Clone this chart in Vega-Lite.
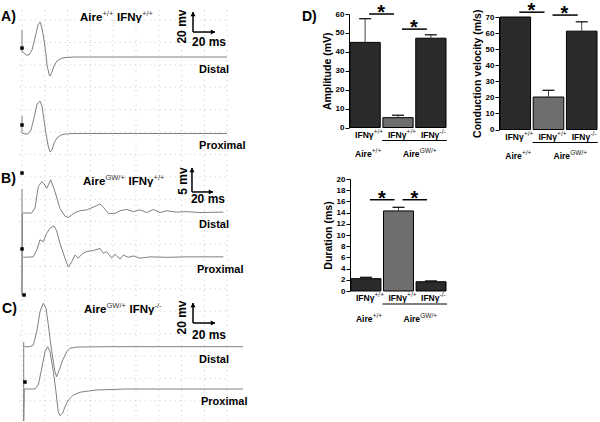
{
"$schema": "https://vega.github.io/schema/vega-lite/v6.json",
"width": 600, "height": 422, "autosize": "none", "padding": 0, "background": "white",
"config": {"view": {"stroke": null}, "font": "Liberation Sans",
  "axis": {"labelFont": "Liberation Sans", "labelFontSize": 8, "labelFontWeight": "bold", "labelColor": "black", "tickColor": "black", "domainColor": "black", "tickSize": 4, "labelPadding": 1, "titleFont": "Liberation Sans", "titleFontSize": 10.5, "titleFontWeight": "bold", "titleColor": "black", "titlePadding": 3, "grid": false, "minExtent": 0, "labelOverlap": false, "labelFlush": false}},
"datasets": {
 "gridT": [{"t":0},{"t":20},{"t":40},{"t":60},{"t":80},{"t":100},{"t":120},{"t":140},{"t":160},{"t":180}],
 "gridV": [{"v":33},{"v":13},{"v":-7},{"v":-27},{"v":-47},{"v":-67},{"v":-87},{"v":-107},{"v":-127},{"v":-147},{"v":-167},{"v":-187},{"v":-207},{"v":-227},{"v":-247},{"v":-267},{"v":-287},{"v":-307}],
 "traces": [
  {"trace":"Ad","i":0,"t":0,"v":24.1},{"trace":"Ad","i":1,"t":0,"v":4.5},{"trace":"Ad","i":2,"t":1.8,"v":3.6},{"trace":"Ad","i":3,"t":3.5,"v":1.8},{"trace":"Ad","i":4,"t":6.1,"v":1.8},{"trace":"Ad","i":5,"t":8.8,"v":6.3},{"trace":"Ad","i":6,"t":11.4,"v":17.0},{"trace":"Ad","i":7,"t":14.0,"v":28.6},{"trace":"Ad","i":8,"t":15.8,"v":31.3},{"trace":"Ad","i":9,"t":17.5,"v":25.9},{"trace":"Ad","i":10,"t":19.3,"v":15.2},{"trace":"Ad","i":11,"t":21.1,"v":1.8},{"trace":"Ad","i":12,"t":21.9,"v":-7.1},{"trace":"Ad","i":13,"t":23.7,"v":-15.2},{"trace":"Ad","i":14,"t":24.6,"v":-17.0},{"trace":"Ad","i":15,"t":26.3,"v":-13.4},{"trace":"Ad","i":16,"t":28.1,"v":-8.0},{"trace":"Ad","i":17,"t":30.7,"v":-3.6},{"trace":"Ad","i":18,"t":34.2,"v":-1.3},{"trace":"Ad","i":19,"t":38.6,"v":-0.4},{"trace":"Ad","i":20,"t":46.5,"v":0},{"trace":"Ad","i":21,"t":179.8,"v":0},
  {"trace":"Ap","i":0,"t":0,"v":15.6},{"trace":"Ap","i":1,"t":0,"v":0.4},{"trace":"Ap","i":2,"t":2.6,"v":-0.4},{"trace":"Ap","i":3,"t":5.3,"v":-0.4},{"trace":"Ap","i":4,"t":7.9,"v":3.1},{"trace":"Ap","i":5,"t":10.5,"v":13.8},{"trace":"Ap","i":6,"t":13.2,"v":26.3},{"trace":"Ap","i":7,"t":15.8,"v":29.0},{"trace":"Ap","i":8,"t":17.5,"v":24.6},{"trace":"Ap","i":9,"t":19.3,"v":12.1},{"trace":"Ap","i":10,"t":21.1,"v":-0.4},{"trace":"Ap","i":11,"t":22.8,"v":-10.3},{"trace":"Ap","i":12,"t":24.6,"v":-16.5},{"trace":"Ap","i":13,"t":26.3,"v":-14.7},{"trace":"Ap","i":14,"t":28.1,"v":-8.5},{"trace":"Ap","i":15,"t":30.7,"v":-4.0},{"trace":"Ap","i":16,"t":34.2,"v":-1.3},{"trace":"Ap","i":17,"t":38.6,"v":-0.4},{"trace":"Ap","i":18,"t":46.5,"v":0},{"trace":"Ap","i":19,"t":179.8,"v":0},
  {"trace":"Bd","i":0,"t":0,"v":5.4},{"trace":"Bd","i":1,"t":0,"v":-18.3},{"trace":"Bd","i":2,"t":0.4,"v":0},{"trace":"Bd","i":3,"t":1.1,"v":0},{"trace":"Bd","i":4,"t":8.5,"v":0},{"trace":"Bd","i":5,"t":11.4,"v":1.1},{"trace":"Bd","i":6,"t":14.3,"v":5.9},{"trace":"Bd","i":7,"t":17.3,"v":7.0},{"trace":"Bd","i":8,"t":19.3,"v":6.5},{"trace":"Bd","i":9,"t":21.7,"v":5.5},{"trace":"Bd","i":10,"t":25.2,"v":7.4},{"trace":"Bd","i":11,"t":28.9,"v":4.8},{"trace":"Bd","i":12,"t":33.3,"v":1.0},{"trace":"Bd","i":13,"t":37.7,"v":-0.7},{"trace":"Bd","i":14,"t":40.6,"v":-1.0},{"trace":"Bd","i":15,"t":43.6,"v":-0.4},{"trace":"Bd","i":16,"t":46.5,"v":0.1},{"trace":"Bd","i":17,"t":50.9,"v":0.5},{"trace":"Bd","i":18,"t":56.8,"v":0.7},{"trace":"Bd","i":19,"t":62.5,"v":1.3},{"trace":"Bd","i":20,"t":68.4,"v":2.0},{"trace":"Bd","i":21,"t":71.3,"v":1.3},{"trace":"Bd","i":22,"t":75.7,"v":-0.1},{"trace":"Bd","i":23,"t":81.6,"v":-0.1},{"trace":"Bd","i":24,"t":86.0,"v":0.5},{"trace":"Bd","i":25,"t":91.8,"v":0.8},{"trace":"Bd","i":26,"t":97.6,"v":0.3},{"trace":"Bd","i":27,"t":103.5,"v":0.7},{"trace":"Bd","i":28,"t":109.4,"v":0.1},{"trace":"Bd","i":29,"t":115.2,"v":0.8},{"trace":"Bd","i":30,"t":121.1,"v":0.1},{"trace":"Bd","i":31,"t":126.9,"v":0.5},{"trace":"Bd","i":32,"t":135.7,"v":0.2},{"trace":"Bd","i":33,"t":144.5,"v":0.3},{"trace":"Bd","i":34,"t":156.1,"v":0.1},{"trace":"Bd","i":35,"t":176.6,"v":0.2},
  {"trace":"Bp","i":0,"t":1.1,"v":0},{"trace":"Bp","i":1,"t":9.9,"v":0.1},{"trace":"Bp","i":2,"t":12.9,"v":1.6},{"trace":"Bp","i":3,"t":15.8,"v":3.9},{"trace":"Bp","i":4,"t":18.7,"v":3.5},{"trace":"Bp","i":5,"t":21.7,"v":5.4},{"trace":"Bp","i":6,"t":24.6,"v":6.5},{"trace":"Bp","i":7,"t":28.1,"v":7.0},{"trace":"Bp","i":8,"t":30.4,"v":5.9},{"trace":"Bp","i":9,"t":33.3,"v":3.1},{"trace":"Bp","i":10,"t":37.7,"v":-0.2},{"trace":"Bp","i":11,"t":40.6,"v":-2.2},{"trace":"Bp","i":12,"t":43.6,"v":-1.0},{"trace":"Bp","i":13,"t":46.5,"v":0.5},{"trace":"Bp","i":14,"t":49.4,"v":-0.2},{"trace":"Bp","i":15,"t":52.4,"v":0.7},{"trace":"Bp","i":16,"t":56.8,"v":1.3},{"trace":"Bp","i":17,"t":62.5,"v":1.5},{"trace":"Bp","i":18,"t":68.4,"v":2.0},{"trace":"Bp","i":19,"t":71.3,"v":0.9},{"trace":"Bp","i":20,"t":74.3,"v":1.3},{"trace":"Bp","i":21,"t":78.7,"v":-0.2},{"trace":"Bp","i":22,"t":81.6,"v":0.7},{"trace":"Bp","i":23,"t":86.0,"v":-0.4},{"trace":"Bp","i":24,"t":88.9,"v":0.5},{"trace":"Bp","i":25,"t":93.2,"v":0},{"trace":"Bp","i":26,"t":97.6,"v":0.3},{"trace":"Bp","i":27,"t":103.5,"v":-0.2},{"trace":"Bp","i":28,"t":112.3,"v":0.1},{"trace":"Bp","i":29,"t":126.9,"v":0},{"trace":"Bp","i":30,"t":144.5,"v":0.1},{"trace":"Bp","i":31,"t":176.6,"v":0.1},
  {"trace":"Cd","i":0,"t":2.0,"v":0},{"trace":"Cd","i":1,"t":7.0,"v":0},{"trace":"Cd","i":2,"t":9.9,"v":1.5},{"trace":"Cd","i":3,"t":12.9,"v":13.4},{"trace":"Cd","i":4,"t":15.8,"v":31.3},{"trace":"Cd","i":5,"t":18.7,"v":38.8},{"trace":"Cd","i":6,"t":21.1,"v":34.3},{"trace":"Cd","i":7,"t":23.1,"v":19.4},{"trace":"Cd","i":8,"t":26.1,"v":-4.5},{"trace":"Cd","i":9,"t":28.9,"v":-22.3},{"trace":"Cd","i":10,"t":30.4,"v":-26.8},{"trace":"Cd","i":11,"t":32.7,"v":-20.8},{"trace":"Cd","i":12,"t":35.7,"v":-11.9},{"trace":"Cd","i":13,"t":39.2,"v":-4.5},{"trace":"Cd","i":14,"t":42.1,"v":-1.4},{"trace":"Cd","i":15,"t":48.0,"v":-0.3},{"trace":"Cd","i":16,"t":77.2,"v":0},{"trace":"Cd","i":17,"t":193.9,"v":0},
  {"trace":"Cp","i":0,"t":1.5,"v":42.0},{"trace":"Cp","i":1,"t":1.5,"v":-28.6},{"trace":"Cp","i":2,"t":2.0,"v":0},{"trace":"Cp","i":3,"t":11.4,"v":0},{"trace":"Cp","i":4,"t":14.3,"v":3.6},{"trace":"Cp","i":5,"t":17.3,"v":18.5},{"trace":"Cp","i":6,"t":20.2,"v":33.3},{"trace":"Cp","i":7,"t":22.5,"v":37.8},{"trace":"Cp","i":8,"t":24.6,"v":33.3},{"trace":"Cp","i":9,"t":27.5,"v":15.4},{"trace":"Cp","i":10,"t":29.8,"v":-2.4},{"trace":"Cp","i":11,"t":31.8,"v":-20.3},{"trace":"Cp","i":12,"t":33.3,"v":-23.8},{"trace":"Cp","i":13,"t":35.7,"v":-21.7},{"trace":"Cp","i":14,"t":37.7,"v":-15.8},{"trace":"Cp","i":15,"t":40.6,"v":-9.8},{"trace":"Cp","i":16,"t":45.0,"v":-5.4},{"trace":"Cp","i":17,"t":50.9,"v":-2.9},{"trace":"Cp","i":18,"t":58.2,"v":-1.8},{"trace":"Cp","i":19,"t":65.5,"v":-0.9},{"trace":"Cp","i":20,"t":91.8,"v":0},{"trace":"Cp","i":21,"t":193.9,"v":0}
 ],
 "markers": [{"t":0,"v":8.0},{"t":0,"v":-60.7},{"t":0,"v":-103.6},{"t":0,"v":-171.4},{"t":1.8,"v":-212.5},{"t":2.6,"v":-290.2}],
 "scalebars": [{"t0":150,"t1":169.3,"v0":22.3,"v1":40.2},{"t0":149.1,"t1":167.5,"v0":-120.5,"v1":-99.1},{"t0":150,"t1":169.3,"v0":-237.5,"v1":-219.6}],
 "panelLabels": [{"t":-18.4,"v":32.1,"label":"A)"},{"t":-18.4,"v":-112.5,"label":"B)"},{"t":-17.5,"v":-228.6,"label":"C)"},{"t":245.6,"v":32.1,"label":"D)"}],
 "titles": [
  {"t":50.9,"v":32.1,"text":"Aire","kind":"base"},{"t":70.6,"v":32.1,"text":"+/+","kind":"sup"},{"t":83.3,"v":32.1,"text":"IFNγ","kind":"base"},{"t":105.3,"v":32.1,"text":"+/+","kind":"sup"},
  {"t":53.5,"v":-114.3,"text":"Aire","kind":"base"},{"t":73.2,"v":-114.3,"text":"GW/+","kind":"sup"},{"t":93.4,"v":-114.3,"text":"IFNγ","kind":"base"},{"t":115.4,"v":-114.3,"text":"+/+","kind":"sup"},
  {"t":54.4,"v":-228.6,"text":"Aire","kind":"base"},{"t":74.1,"v":-228.6,"text":"GW/+","kind":"sup"},{"t":94.3,"v":-228.6,"text":"IFNγ","kind":"base"},{"t":116.2,"v":-228.6,"text":"-/-","kind":"sup"}
 ],
 "siteLabels": [{"t":155.3,"v":-14.3,"label":"Distal"},{"t":155.3,"v":-82.1,"label":"Proximal"},{"t":155.3,"v":-152.7,"label":"Distal"},{"t":153.5,"v":-192.9,"label":"Proximal"},{"t":155.3,"v":-273.2,"label":"Distal"},{"t":157.0,"v":-310.7,"label":"Proximal"}],
 "msLabels": [{"t":149.1,"v":9.8,"label":"20 ms"},{"t":148.2,"v":-130.6,"label":"20 ms"},{"t":149.1,"v":-252.1,"label":"20 ms"}],
 "mvLabels": [{"t":140.4,"v":27.2,"label":"20 mv"},{"t":141.2,"v":-110.7,"label":"5 mv"},{"t":140.4,"v":-232.6,"label":"20 mv"}],
 "bars": [
  {"chart":"Amplitude","grp":"Aire+/+ IFNγ+/+","value":45,"upper":57.5},
  {"chart":"Amplitude","grp":"AireGW/+ IFNγ+/+","value":5.2,"upper":6.5},
  {"chart":"Amplitude","grp":"AireGW/+ IFNγ-/-","value":47.2,"upper":49},
  {"chart":"Conduction","grp":"Aire+/+ IFNγ+/+","value":70,"upper":70},
  {"chart":"Conduction","grp":"AireGW/+ IFNγ+/+","value":20.2,"upper":24.4},
  {"chart":"Conduction","grp":"AireGW/+ IFNγ-/-","value":61.2,"upper":67},
  {"chart":"Duration","grp":"Aire+/+ IFNγ+/+","value":2.2,"upper":2.45},
  {"chart":"Duration","grp":"AireGW/+ IFNγ+/+","value":14.3,"upper":14.95},
  {"chart":"Duration","grp":"AireGW/+ IFNγ-/-","value":1.65,"upper":1.8}
 ],
 "sig": [
  {"chart":"Amplitude","from":"Aire+/+ IFNγ+/+","to":"AireGW/+ IFNγ+/+","y":60},
  {"chart":"Amplitude","from":"AireGW/+ IFNγ+/+","to":"AireGW/+ IFNγ-/-","y":52},
  {"chart":"Conduction","from":"Aire+/+ IFNγ+/+","to":"AireGW/+ IFNγ+/+","y":73},
  {"chart":"Conduction","from":"AireGW/+ IFNγ+/+","to":"AireGW/+ IFNγ-/-","y":71.2},
  {"chart":"Duration","from":"Aire+/+ IFNγ+/+","to":"AireGW/+ IFNγ+/+","y":16.3},
  {"chart":"Duration","from":"AireGW/+ IFNγ+/+","to":"AireGW/+ IFNγ-/-","y":16.3}
 ],
 "xlabels": [{"grp":"Aire+/+ IFNγ+/+","base":"IFNγ","sup":"+/+"},{"grp":"AireGW/+ IFNγ+/+","base":"IFNγ","sup":"+/+"},{"grp":"AireGW/+ IFNγ-/-","base":"IFNγ","sup":"-/-"}],
 "aireWT": [{"grp":"Aire+/+ IFNγ+/+","base":"Aire","sup":"+/+"}],
 "aireGW": [{"grp":"AireGW/+ IFNγ+/+","base":"Aire","sup":"GW/+"}],
 "underline": [{"from":"AireGW/+ IFNγ+/+","to":"AireGW/+ IFNγ-/-"}]
},
"resolve": {"scale": {"x": "independent", "y": "independent"}},
"layer": [
 {"layer": [
  {"data": {"name": "gridT"}, "mark": {"type": "rule", "color": "#cacaca", "strokeWidth": 1, "strokeDash": [1, 4]},
   "encoding": {"x": {"field": "t", "type": "quantitative", "scale": {"domain": [0, 200], "range": [22, 250], "nice": false, "zero": false}, "axis": null},
    "y": {"datum": 42, "type": "quantitative", "scale": {"domain": [-50, 50], "range": [113, 1], "nice": false, "zero": false}, "axis": null},
    "y2": {"datum": -325}}},
  {"data": {"name": "gridV"}, "mark": {"type": "rule", "color": "#cacaca", "strokeWidth": 1, "strokeDash": [1, 4]},
   "encoding": {"x": {"datum": -2, "type": "quantitative"}, "x2": {"datum": 182}, "y": {"field": "v", "type": "quantitative"}}}
 ]},
 {"data": {"name": "traces"}, "transform": [{"filter": "datum.trace === 'Ad'"}], "mark": {"type": "line", "color": "#808080", "strokeWidth": 1},
  "encoding": {"x": {"field": "t", "type": "quantitative", "scale": {"domain": [0, 200], "range": [22, 250], "nice": false, "zero": false}, "axis": null},
   "y": {"field": "v", "type": "quantitative", "scale": {"domain": [-50, 50], "range": [113, 1], "nice": false, "zero": false}, "axis": null},
   "order": {"field": "i", "type": "quantitative"}}},
 {"data": {"name": "traces"}, "transform": [{"filter": "datum.trace === 'Ap'"}], "mark": {"type": "line", "color": "#808080", "strokeWidth": 1},
  "encoding": {"x": {"field": "t", "type": "quantitative", "scale": {"domain": [0, 200], "range": [22, 250], "nice": false, "zero": false}, "axis": null},
   "y": {"field": "v", "type": "quantitative", "scale": {"domain": [-50, 50], "range": [189.5, 77.5], "nice": false, "zero": false}, "axis": null},
   "order": {"field": "i", "type": "quantitative"}}},
 {"data": {"name": "traces"}, "transform": [{"filter": "datum.trace === 'Bd'"}], "mark": {"type": "line", "color": "#808080", "strokeWidth": 1},
  "encoding": {"x": {"field": "t", "type": "quantitative", "scale": {"domain": [0, 200], "range": [22, 250], "nice": false, "zero": false}, "axis": null},
   "y": {"field": "v", "type": "quantitative", "scale": {"domain": [-10, 10], "range": [257.8, 168.2], "nice": false, "zero": false}, "axis": null},
   "order": {"field": "i", "type": "quantitative"}}},
 {"data": {"name": "traces"}, "transform": [{"filter": "datum.trace === 'Bp'"}], "mark": {"type": "line", "color": "#808080", "strokeWidth": 1},
  "encoding": {"x": {"field": "t", "type": "quantitative", "scale": {"domain": [0, 200], "range": [22, 250], "nice": false, "zero": false}, "axis": null},
   "y": {"field": "v", "type": "quantitative", "scale": {"domain": [-10, 10], "range": [302.1, 212.5], "nice": false, "zero": false}, "axis": null},
   "order": {"field": "i", "type": "quantitative"}}},
 {"data": {"name": "traces"}, "transform": [{"filter": "datum.trace === 'Cd'"}], "mark": {"type": "line", "color": "#808080", "strokeWidth": 1},
  "encoding": {"x": {"field": "t", "type": "quantitative", "scale": {"domain": [0, 200], "range": [22, 250], "nice": false, "zero": false}, "axis": null},
   "y": {"field": "v", "type": "quantitative", "scale": {"domain": [-50, 50], "range": [402.7, 290.7], "nice": false, "zero": false}, "axis": null},
   "order": {"field": "i", "type": "quantitative"}}},
 {"data": {"name": "traces"}, "transform": [{"filter": "datum.trace === 'Cp'"}], "mark": {"type": "line", "color": "#808080", "strokeWidth": 1},
  "encoding": {"x": {"field": "t", "type": "quantitative", "scale": {"domain": [0, 200], "range": [22, 250], "nice": false, "zero": false}, "axis": null},
   "y": {"field": "v", "type": "quantitative", "scale": {"domain": [-50, 50], "range": [445, 333], "nice": false, "zero": false}, "axis": null},
   "order": {"field": "i", "type": "quantitative"}}},
 {"layer": [
  {"data": {"name": "markers"}, "mark": {"type": "point", "shape": "square", "filled": true, "color": "black", "size": 12, "opacity": 1},
   "encoding": {"x": {"field": "t", "type": "quantitative", "scale": {"domain": [0, 200], "range": [22, 250], "nice": false, "zero": false}, "axis": null},
    "y": {"field": "v", "type": "quantitative", "scale": {"domain": [-50, 50], "range": [113, 1], "nice": false, "zero": false}, "axis": null}}},
  {"data": {"name": "scalebars"}, "mark": {"type": "rule", "color": "black", "strokeWidth": 1.5},
   "encoding": {"x": {"field": "t0", "type": "quantitative"}, "y": {"field": "v0", "type": "quantitative"}, "y2": {"field": "v1"}}},
  {"data": {"name": "scalebars"}, "mark": {"type": "rule", "color": "black", "strokeWidth": 1.5},
   "encoding": {"x": {"field": "t0", "type": "quantitative"}, "x2": {"field": "t1"}, "y": {"field": "v0", "type": "quantitative"}}},
  {"data": {"name": "scalebars"}, "mark": {"type": "point", "shape": "triangle-up", "filled": true, "color": "black", "size": 26, "opacity": 1, "yOffset": 2},
   "encoding": {"x": {"field": "t0", "type": "quantitative"}, "y": {"field": "v1", "type": "quantitative"}}},
  {"data": {"name": "scalebars"}, "mark": {"type": "point", "shape": "triangle-right", "filled": true, "color": "black", "size": 26, "opacity": 1, "xOffset": -2},
   "encoding": {"x": {"field": "t1", "type": "quantitative"}, "y": {"field": "v0", "type": "quantitative"}}},
  {"data": {"name": "panelLabels"}, "mark": {"type": "text", "align": "left", "baseline": "alphabetic", "fontSize": 14, "fontWeight": "bold", "color": "black"},
   "encoding": {"x": {"field": "t", "type": "quantitative"}, "y": {"field": "v", "type": "quantitative"}, "text": {"field": "label"}}},
  {"data": {"name": "titles"}, "transform": [{"filter": "datum.kind === 'base'"}], "mark": {"type": "text", "align": "left", "baseline": "alphabetic", "fontSize": 11.5, "fontWeight": "bold", "color": "black"},
   "encoding": {"x": {"field": "t", "type": "quantitative"}, "y": {"field": "v", "type": "quantitative"}, "text": {"field": "text"}}},
  {"data": {"name": "titles"}, "transform": [{"filter": "datum.kind === 'sup'"}], "mark": {"type": "text", "align": "left", "baseline": "alphabetic", "fontSize": 7.5, "fontWeight": "normal", "color": "#333", "dy": -5},
   "encoding": {"x": {"field": "t", "type": "quantitative"}, "y": {"field": "v", "type": "quantitative"}, "text": {"field": "text"}}},
  {"data": {"name": "siteLabels"}, "mark": {"type": "text", "align": "left", "baseline": "alphabetic", "fontSize": 11, "fontWeight": "bold", "color": "black"},
   "encoding": {"x": {"field": "t", "type": "quantitative"}, "y": {"field": "v", "type": "quantitative"}, "text": {"field": "label"}}},
  {"data": {"name": "msLabels"}, "mark": {"type": "text", "align": "left", "baseline": "alphabetic", "fontSize": 12, "fontWeight": "bold", "color": "black"},
   "encoding": {"x": {"field": "t", "type": "quantitative"}, "y": {"field": "v", "type": "quantitative"}, "text": {"field": "label"}}},
  {"data": {"name": "mvLabels"}, "mark": {"type": "text", "align": "center", "baseline": "middle", "angle": 270, "fontSize": 12, "fontWeight": "bold", "color": "black"},
   "encoding": {"x": {"field": "t", "type": "quantitative"}, "y": {"field": "v", "type": "quantitative"}, "text": {"field": "label"}}}
 ]},
 {"layer": [
  {"data": {"name": "bars"}, "transform": [{"filter": "datum.chart === 'Amplitude'"}], "mark": {"type": "bar", "stroke": "black", "strokeWidth": 1},
   "encoding": {"x": {"field": "grp", "type": "nominal", "scale": {"domain": ["Aire+/+ IFNγ+/+", "AireGW/+ IFNγ+/+", "AireGW/+ IFNγ-/-"], "range": [349, 447], "paddingInner": 0.08, "paddingOuter": 0.03}, "axis": null},
    "y": {"field": "value", "type": "quantitative", "scale": {"domain": [0, 60], "range": [127.5, 14], "nice": false, "zero": false},
      "axis": {"orient": "left", "offset": -349, "values": [0, 10, 20, 30, 40, 50, 60], "title": "Amplitude (mV)"}},
    "color": {"field": "grp", "type": "nominal", "scale": {"domain": ["Aire+/+ IFNγ+/+", "AireGW/+ IFNγ+/+", "AireGW/+ IFNγ-/-"], "range": ["#2b2b2b", "#6e6e6e", "#2b2b2b"]}, "legend": null}}},
  {"data": {"name": "bars"}, "transform": [{"filter": "datum.chart === 'Amplitude'"}], "mark": {"type": "rule", "color": "#444", "strokeWidth": 1},
   "encoding": {"x": {"field": "grp", "type": "nominal"}, "y": {"field": "value", "type": "quantitative"}, "y2": {"field": "upper"}}},
  {"data": {"name": "bars"}, "transform": [{"filter": "datum.chart === 'Amplitude'"}], "mark": {"type": "tick", "orient": "horizontal", "color": "black", "size": 12, "thickness": 1.2, "opacity": 1},
   "encoding": {"x": {"field": "grp", "type": "nominal"}, "y": {"field": "upper", "type": "quantitative"}}},
  {"data": {"name": "sig"}, "transform": [{"filter": "datum.chart === 'Amplitude'"}], "mark": {"type": "rule", "color": "black", "strokeWidth": 1.5, "xOffset": 4, "x2Offset": -4},
   "encoding": {"x": {"field": "from", "type": "nominal"}, "x2": {"field": "to"}, "y": {"field": "y", "type": "quantitative"}}},
  {"data": {"name": "sig"}, "transform": [{"filter": "datum.chart === 'Amplitude'"}], "mark": {"type": "text", "text": "*", "fontSize": 20, "fontWeight": "bold", "align": "center", "baseline": "alphabetic", "xOffset": 16, "dy": 5, "color": "black"},
   "encoding": {"x": {"field": "from", "type": "nominal"}, "y": {"field": "y", "type": "quantitative"}}},
  {"data": {"name": "xlabels"}, "mark": {"type": "text", "align": "left", "baseline": "alphabetic", "xOffset": -10, "dy": 10, "fontSize": 8.5, "fontWeight": "bold", "color": "black"},
   "encoding": {"x": {"field": "grp", "type": "nominal"}, "y": {"datum": 0, "type": "quantitative"}, "text": {"field": "base"}}},
  {"data": {"name": "xlabels"}, "mark": {"type": "text", "align": "left", "baseline": "alphabetic", "xOffset": 8.6, "dy": 6, "fontSize": 6.5, "fontWeight": "normal", "color": "#222"},
   "encoding": {"x": {"field": "grp", "type": "nominal"}, "y": {"datum": 0, "type": "quantitative"}, "text": {"field": "sup"}}},
  {"data": {"name": "aireWT"}, "mark": {"type": "text", "align": "left", "baseline": "alphabetic", "xOffset": -10, "dy": 29, "fontSize": 8.5, "fontWeight": "bold", "color": "black"},
   "encoding": {"x": {"field": "grp", "type": "nominal"}, "y": {"datum": 0, "type": "quantitative"}, "text": {"field": "base"}}},
  {"data": {"name": "aireWT"}, "mark": {"type": "text", "align": "left", "baseline": "alphabetic", "xOffset": 6.7, "dy": 25, "fontSize": 6.5, "fontWeight": "normal", "color": "#222"},
   "encoding": {"x": {"field": "grp", "type": "nominal"}, "y": {"datum": 0, "type": "quantitative"}, "text": {"field": "sup"}}},
  {"data": {"name": "aireGW"}, "mark": {"type": "text", "align": "left", "baseline": "alphabetic", "xOffset": 5, "dy": 29, "fontSize": 8.5, "fontWeight": "bold", "color": "black"},
   "encoding": {"x": {"field": "grp", "type": "nominal"}, "y": {"datum": 0, "type": "quantitative"}, "text": {"field": "base"}}},
  {"data": {"name": "aireGW"}, "mark": {"type": "text", "align": "left", "baseline": "alphabetic", "xOffset": 21.7, "dy": 25, "fontSize": 6.5, "fontWeight": "normal", "color": "#222"},
   "encoding": {"x": {"field": "grp", "type": "nominal"}, "y": {"datum": 0, "type": "quantitative"}, "text": {"field": "sup"}}},
  {"data": {"name": "underline"}, "mark": {"type": "rule", "color": "black", "strokeWidth": 1, "xOffset": -16, "x2Offset": 16, "yOffset": 13},
   "encoding": {"x": {"field": "from", "type": "nominal"}, "x2": {"field": "to"}, "y": {"datum": 0, "type": "quantitative"}}}
 ]},
 {"layer": [
  {"data": {"name": "bars"}, "transform": [{"filter": "datum.chart === 'Conduction'"}], "mark": {"type": "bar", "stroke": "black", "strokeWidth": 1},
   "encoding": {"x": {"field": "grp", "type": "nominal", "scale": {"domain": ["Aire+/+ IFNγ+/+", "AireGW/+ IFNγ+/+", "AireGW/+ IFNγ-/-"], "range": [499, 598], "paddingInner": 0.08, "paddingOuter": 0.03}, "axis": null},
    "y": {"field": "value", "type": "quantitative", "scale": {"domain": [0, 70], "range": [129.5, 17], "nice": false, "zero": false},
      "axis": {"orient": "left", "offset": -499, "values": [0, 10, 20, 30, 40, 50, 60, 70], "title": "Conduction velocity (m/s)"}},
    "color": {"field": "grp", "type": "nominal", "scale": {"domain": ["Aire+/+ IFNγ+/+", "AireGW/+ IFNγ+/+", "AireGW/+ IFNγ-/-"], "range": ["#2b2b2b", "#6e6e6e", "#2b2b2b"]}, "legend": null}}},
  {"data": {"name": "bars"}, "transform": [{"filter": "datum.chart === 'Conduction'"}], "mark": {"type": "rule", "color": "#444", "strokeWidth": 1},
   "encoding": {"x": {"field": "grp", "type": "nominal"}, "y": {"field": "value", "type": "quantitative"}, "y2": {"field": "upper"}}},
  {"data": {"name": "bars"}, "transform": [{"filter": "datum.chart === 'Conduction' && datum.upper > datum.value"}], "mark": {"type": "tick", "orient": "horizontal", "color": "black", "size": 12, "thickness": 1.2, "opacity": 1},
   "encoding": {"x": {"field": "grp", "type": "nominal"}, "y": {"field": "upper", "type": "quantitative"}}},
  {"data": {"name": "sig"}, "transform": [{"filter": "datum.chart === 'Conduction'"}], "mark": {"type": "rule", "color": "black", "strokeWidth": 1.5, "xOffset": 4, "x2Offset": -4},
   "encoding": {"x": {"field": "from", "type": "nominal"}, "x2": {"field": "to"}, "y": {"field": "y", "type": "quantitative"}}},
  {"data": {"name": "sig"}, "transform": [{"filter": "datum.chart === 'Conduction'"}], "mark": {"type": "text", "text": "*", "fontSize": 20, "fontWeight": "bold", "align": "center", "baseline": "alphabetic", "xOffset": 16, "dy": 5, "color": "black"},
   "encoding": {"x": {"field": "from", "type": "nominal"}, "y": {"field": "y", "type": "quantitative"}}},
  {"data": {"name": "xlabels"}, "mark": {"type": "text", "align": "left", "baseline": "alphabetic", "xOffset": -10, "dy": 10, "fontSize": 8.5, "fontWeight": "bold", "color": "black"},
   "encoding": {"x": {"field": "grp", "type": "nominal"}, "y": {"datum": 0, "type": "quantitative"}, "text": {"field": "base"}}},
  {"data": {"name": "xlabels"}, "mark": {"type": "text", "align": "left", "baseline": "alphabetic", "xOffset": 8.6, "dy": 6, "fontSize": 6.5, "fontWeight": "normal", "color": "#222"},
   "encoding": {"x": {"field": "grp", "type": "nominal"}, "y": {"datum": 0, "type": "quantitative"}, "text": {"field": "sup"}}},
  {"data": {"name": "aireWT"}, "mark": {"type": "text", "align": "left", "baseline": "alphabetic", "xOffset": -10, "dy": 29, "fontSize": 8.5, "fontWeight": "bold", "color": "black"},
   "encoding": {"x": {"field": "grp", "type": "nominal"}, "y": {"datum": 0, "type": "quantitative"}, "text": {"field": "base"}}},
  {"data": {"name": "aireWT"}, "mark": {"type": "text", "align": "left", "baseline": "alphabetic", "xOffset": 6.7, "dy": 25, "fontSize": 6.5, "fontWeight": "normal", "color": "#222"},
   "encoding": {"x": {"field": "grp", "type": "nominal"}, "y": {"datum": 0, "type": "quantitative"}, "text": {"field": "sup"}}},
  {"data": {"name": "aireGW"}, "mark": {"type": "text", "align": "left", "baseline": "alphabetic", "xOffset": 5, "dy": 29, "fontSize": 8.5, "fontWeight": "bold", "color": "black"},
   "encoding": {"x": {"field": "grp", "type": "nominal"}, "y": {"datum": 0, "type": "quantitative"}, "text": {"field": "base"}}},
  {"data": {"name": "aireGW"}, "mark": {"type": "text", "align": "left", "baseline": "alphabetic", "xOffset": 21.7, "dy": 25, "fontSize": 6.5, "fontWeight": "normal", "color": "#222"},
   "encoding": {"x": {"field": "grp", "type": "nominal"}, "y": {"datum": 0, "type": "quantitative"}, "text": {"field": "sup"}}},
  {"data": {"name": "underline"}, "mark": {"type": "rule", "color": "black", "strokeWidth": 1, "xOffset": -16, "x2Offset": 16, "yOffset": 13},
   "encoding": {"x": {"field": "from", "type": "nominal"}, "x2": {"field": "to"}, "y": {"datum": 0, "type": "quantitative"}}}
 ]},
 {"layer": [
  {"data": {"name": "bars"}, "transform": [{"filter": "datum.chart === 'Duration'"}], "mark": {"type": "bar", "stroke": "black", "strokeWidth": 1},
   "encoding": {"x": {"field": "grp", "type": "nominal", "scale": {"domain": ["Aire+/+ IFNγ+/+", "AireGW/+ IFNγ+/+", "AireGW/+ IFNγ-/-"], "range": [350, 447], "paddingInner": 0.08, "paddingOuter": 0.03}, "axis": null},
    "y": {"field": "value", "type": "quantitative", "scale": {"domain": [0, 20], "range": [291, 179], "nice": false, "zero": false},
      "axis": {"orient": "left", "offset": -350, "values": [0, 2, 4, 6, 8, 10, 12, 14, 16, 18, 20], "title": "Duration (ms)"}},
    "color": {"field": "grp", "type": "nominal", "scale": {"domain": ["Aire+/+ IFNγ+/+", "AireGW/+ IFNγ+/+", "AireGW/+ IFNγ-/-"], "range": ["#2b2b2b", "#6e6e6e", "#2b2b2b"]}, "legend": null}}},
  {"data": {"name": "bars"}, "transform": [{"filter": "datum.chart === 'Duration'"}], "mark": {"type": "rule", "color": "#444", "strokeWidth": 1},
   "encoding": {"x": {"field": "grp", "type": "nominal"}, "y": {"field": "value", "type": "quantitative"}, "y2": {"field": "upper"}}},
  {"data": {"name": "bars"}, "transform": [{"filter": "datum.chart === 'Duration'"}], "mark": {"type": "tick", "orient": "horizontal", "color": "black", "size": 12, "thickness": 1.2, "opacity": 1},
   "encoding": {"x": {"field": "grp", "type": "nominal"}, "y": {"field": "upper", "type": "quantitative"}}},
  {"data": {"name": "sig"}, "transform": [{"filter": "datum.chart === 'Duration'"}], "mark": {"type": "rule", "color": "black", "strokeWidth": 1.5, "xOffset": 4, "x2Offset": -4},
   "encoding": {"x": {"field": "from", "type": "nominal"}, "x2": {"field": "to"}, "y": {"field": "y", "type": "quantitative"}}},
  {"data": {"name": "sig"}, "transform": [{"filter": "datum.chart === 'Duration'"}], "mark": {"type": "text", "text": "*", "fontSize": 20, "fontWeight": "bold", "align": "center", "baseline": "alphabetic", "xOffset": 16, "dy": 5, "color": "black"},
   "encoding": {"x": {"field": "from", "type": "nominal"}, "y": {"field": "y", "type": "quantitative"}}},
  {"data": {"name": "xlabels"}, "mark": {"type": "text", "align": "left", "baseline": "alphabetic", "xOffset": -10, "dy": 10, "fontSize": 8.5, "fontWeight": "bold", "color": "black"},
   "encoding": {"x": {"field": "grp", "type": "nominal"}, "y": {"datum": 0, "type": "quantitative"}, "text": {"field": "base"}}},
  {"data": {"name": "xlabels"}, "mark": {"type": "text", "align": "left", "baseline": "alphabetic", "xOffset": 8.6, "dy": 6, "fontSize": 6.5, "fontWeight": "normal", "color": "#222"},
   "encoding": {"x": {"field": "grp", "type": "nominal"}, "y": {"datum": 0, "type": "quantitative"}, "text": {"field": "sup"}}},
  {"data": {"name": "aireWT"}, "mark": {"type": "text", "align": "left", "baseline": "alphabetic", "xOffset": -10, "dy": 31, "fontSize": 8.5, "fontWeight": "bold", "color": "black"},
   "encoding": {"x": {"field": "grp", "type": "nominal"}, "y": {"datum": 0, "type": "quantitative"}, "text": {"field": "base"}}},
  {"data": {"name": "aireWT"}, "mark": {"type": "text", "align": "left", "baseline": "alphabetic", "xOffset": 6.7, "dy": 27, "fontSize": 6.5, "fontWeight": "normal", "color": "#222"},
   "encoding": {"x": {"field": "grp", "type": "nominal"}, "y": {"datum": 0, "type": "quantitative"}, "text": {"field": "sup"}}},
  {"data": {"name": "aireGW"}, "mark": {"type": "text", "align": "left", "baseline": "alphabetic", "xOffset": 5, "dy": 31, "fontSize": 8.5, "fontWeight": "bold", "color": "black"},
   "encoding": {"x": {"field": "grp", "type": "nominal"}, "y": {"datum": 0, "type": "quantitative"}, "text": {"field": "base"}}},
  {"data": {"name": "aireGW"}, "mark": {"type": "text", "align": "left", "baseline": "alphabetic", "xOffset": 21.7, "dy": 27, "fontSize": 6.5, "fontWeight": "normal", "color": "#222"},
   "encoding": {"x": {"field": "grp", "type": "nominal"}, "y": {"datum": 0, "type": "quantitative"}, "text": {"field": "sup"}}},
  {"data": {"name": "underline"}, "mark": {"type": "rule", "color": "black", "strokeWidth": 1, "xOffset": -16, "x2Offset": 16, "yOffset": 13},
   "encoding": {"x": {"field": "from", "type": "nominal"}, "x2": {"field": "to"}, "y": {"datum": 0, "type": "quantitative"}}}
 ]}
]
}
